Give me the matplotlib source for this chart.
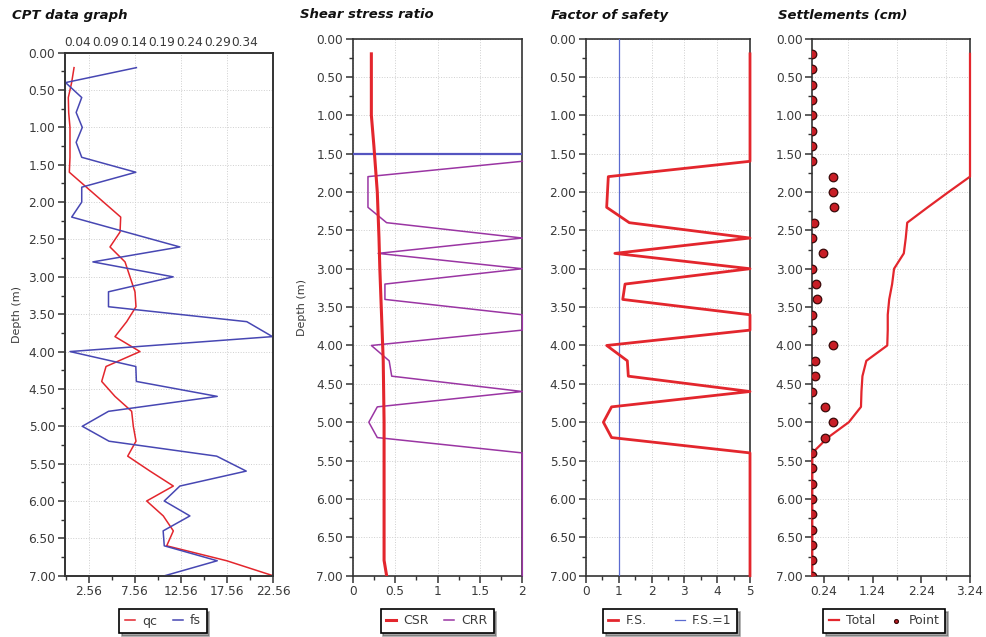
import matplotlib
matplotlib.use("Agg")
import matplotlib.pyplot as plt
from matplotlib.patches import Polygon
from matplotlib.ticker import MultipleLocator, FixedLocator, FormatStrFormatter

# --- CPT data (qc on bottom axis, fs on top axis) ---
qc_depth = [0.2, 0.4, 0.6, 0.8, 1.0, 1.2, 1.4, 1.6, 2.2, 2.4, 2.6, 2.8, 3.0, 3.2, 3.4,
            3.6, 3.8, 4.0, 4.2, 4.4, 4.6, 4.8, 5.0, 5.2, 5.4, 5.6, 5.8, 6.0, 6.2, 6.4,
            6.6, 6.8, 7.0]
qc = [0.98, 0.72, 0.36, 0.40, 0.54, 0.54, 0.54, 0.47, 6.04, 5.97, 4.88, 6.51, 7.05, 7.59, 7.70,
      6.69, 5.42, 8.13, 4.45, 3.98, 5.42, 7.23, 7.41, 7.70, 6.80, 9.22, 11.75, 8.86, 10.66, 11.75,
      11.03, 17.54, 22.56]

fs_depth = [0.2, 0.4, 0.6, 0.8, 1.0, 1.2, 1.4, 1.6, 1.8, 2.0, 2.2, 2.6, 2.8, 3.0, 3.2,
            3.4, 3.6, 3.8, 4.0, 4.2, 4.4, 4.6, 4.8, 5.0, 5.2, 5.4, 5.6, 5.8, 6.0, 6.2,
            6.4, 6.6, 6.8, 7.0]
fs = [0.145, 0.018, 0.047, 0.037, 0.048, 0.037, 0.047, 0.144, 0.047, 0.047, 0.029, 0.223, 0.067, 0.211, 0.095,
      0.095, 0.343, 0.389, 0.026, 0.144, 0.145, 0.290, 0.095, 0.048, 0.096, 0.289, 0.342, 0.223, 0.195, 0.241,
      0.193, 0.195, 0.290, 0.196]

qc_ticks = [2.56, 7.56, 12.56, 17.56, 22.56]
fs_ticks = [0.04, 0.09, 0.14, 0.19, 0.24, 0.29, 0.34]

# --- shear stress ratio ---
csr_depth = [0.2, 1.0, 1.4, 2.0, 2.6, 3.0, 3.6, 4.2, 5.0, 6.0, 6.8, 7.0]
csr = [0.22, 0.22, 0.25, 0.29, 0.31, 0.32, 0.34, 0.36, 0.37, 0.37, 0.37, 0.40]

crr_depth = [1.6, 1.8, 2.2, 2.4, 2.6, 2.8, 3.0, 3.2, 3.4, 3.6, 3.8, 4.0, 4.2, 4.4,
             4.6, 4.8, 5.0, 5.2, 5.4, 7.0]
crr = [2.0, 0.18, 0.18, 0.40, 2.0, 0.30, 2.0, 0.38, 0.38, 2.0, 2.0, 0.22, 0.43, 0.46,
       2.0, 0.29, 0.19, 0.29, 2.0, 2.0]

water_depth = 1.5

# --- factor of safety ---
fos_depth = [0.2, 1.6, 1.8, 2.2, 2.4, 2.6, 2.8, 3.0, 3.2, 3.4, 3.6, 3.8, 4.0, 4.2,
             4.4, 4.6, 4.8, 5.0, 5.2, 5.4, 7.0]
fos = [5.0, 5.0, 0.68, 0.63, 1.32, 5.0, 0.88, 5.0, 1.19, 1.12, 5.0, 5.0, 0.63, 1.26,
       1.29, 5.0, 0.78, 0.53, 0.78, 5.0, 5.0]

# --- settlements ---
total_depth = [0.2, 1.8, 2.0, 2.2, 2.4, 2.6, 2.8, 3.0, 3.2, 3.4, 3.6, 3.8, 4.0, 4.2,
               4.4, 4.6, 4.8, 5.0, 5.2, 5.4, 7.0]
total = [3.24, 3.24, 2.80, 2.37, 1.95, 1.92, 1.88, 1.68, 1.64, 1.58, 1.55, 1.55, 1.54, 1.11,
         1.03, 1.01, 1.00, 0.75, 0.32, 0.0, 0.0]

point_depth = [0.2, 0.4, 0.6, 0.8, 1.0, 1.2, 1.4, 1.6, 1.8, 2.0, 2.2, 2.4, 2.6, 2.8, 3.0,
               3.2, 3.4, 3.6, 3.8, 4.0, 4.2, 4.4, 4.6, 4.8, 5.0, 5.2, 5.4, 5.6, 5.8, 6.0,
               6.2, 6.4, 6.6, 6.8, 7.0]
point = [0, 0, 0, 0, 0, 0, 0, 0, 0.42, 0.42, 0.44, 0.04, 0, 0.21, 0,
         0.07, 0.10, 0, 0, 0.42, 0.06, 0.05, 0, 0.26, 0.42, 0.26, 0, 0, 0, 0,
         0, 0, 0, 0, 0]
settle_ticks = [0.24, 1.24, 2.24, 3.24]

RED = "#e3262d"
BLUE = "#4747b3"
PURPLE = "#9a35a3"
TXT = "#3a3a3a"
W, H = 986, 637

plt.rcParams["font.family"] = "DejaVu Sans"

fig = plt.figure(figsize=(W / 100, H / 100), dpi=100)


def px_axes(x0, x1, y0, y1):
    return fig.add_axes([x0 / W, 1 - y1 / H, (x1 - x0) / W, (y1 - y0) / H])


def style(ax, ylabel=False):
    ax.set_ylim(7, 0)
    ax.yaxis.set_major_locator(MultipleLocator(0.5))
    ax.yaxis.set_minor_locator(MultipleLocator(0.25))
    ax.yaxis.set_major_formatter(FormatStrFormatter("%.2f"))
    for s in ax.spines.values():
        s.set_color("#333333")
        s.set_linewidth(1.2)
    ax.tick_params(which="major", length=5, width=1.1, color="#333333",
                   labelsize=8.7, labelcolor=TXT, pad=2)
    ax.tick_params(which="minor", length=3, width=1.0, color="#333333")
    ax.grid(True, which="major", color="#cfcfcf", linestyle=":", linewidth=0.7)
    ax.set_axisbelow(True)
    if ylabel:
        ax.set_ylabel("Depth (m)", fontsize=8, color=TXT)


def legend(ax, xc, colsp=1.2, **kw):
    leg = ax.legend(loc="center", bbox_to_anchor=(xc / W, 1 - 621 / H),
                    bbox_transform=fig.transFigure, ncol=2, fontsize=9,
                    handlelength=0.8, handletextpad=0.6, columnspacing=colsp,
                    fancybox=False, shadow={"color": "0.3"}, borderpad=0.45,
                    framealpha=1, **kw)
    leg.get_frame().set_edgecolor("black")
    leg.get_frame().set_linewidth(1.2)
    for t in leg.get_texts():
        t.set_color(TXT)
    return leg


def title(x, text):
    fig.text(x / W, 1 - 15 / H, text, fontsize=9.5, fontweight="bold",
             style="italic", color="#111111", va="center", ha="left")


# CPT data graph
ax1 = px_axes(65, 273, 52.7, 575.7)
style(ax1, ylabel=True)
ax1.yaxis.set_label_coords(-0.205, 0.5)
l_qc, = ax1.plot(qc, qc_depth, color=RED, lw=1.1, label="qc")
ax1.set_xlim(0, 22.56)
ax1.xaxis.set_major_locator(FixedLocator(qc_ticks))
ax1.xaxis.set_minor_locator(FixedLocator([t - 2.5 for t in qc_ticks]))
ax1.xaxis.set_major_formatter(FormatStrFormatter("%.2f"))
ax1t = ax1.twiny()
l_fs, = ax1t.plot(fs, fs_depth, color=BLUE, lw=1.1, label="fs")
ax1t.set_xlim(0.017, 0.39)
ax1t.xaxis.set_major_locator(FixedLocator(fs_ticks))
ax1t.xaxis.set_major_formatter(FormatStrFormatter("%.2f"))
ax1t.tick_params(axis="x", length=0, labelsize=8.7, labelcolor=TXT, pad=3)
for s in ax1t.spines.values():
    s.set_color("#333333")
    s.set_linewidth(1.2)
legend(ax1, 163, handles=[l_qc, l_fs])
title(12, "CPT data graph")

# Shear stress ratio
ax2 = px_axes(352.7, 522.3, 38.5, 575.7)
style(ax2, ylabel=True)
ax2.yaxis.set_label_coords(-0.27, 0.5)
ax2.axhline(water_depth, color="#5555c0", lw=1.6, zorder=3)
l_crr, = ax2.plot(crr, crr_depth, color=PURPLE, lw=1.1, label="CRR", zorder=4, clip_on=False)
l_csr, = ax2.plot(csr, csr_depth, color=RED, lw=2.2, label="CSR", zorder=5)
ax2.set_xlim(0, 2)
ax2.xaxis.set_major_locator(FixedLocator([0, 0.5, 1, 1.5, 2]))
ax2.xaxis.set_minor_locator(MultipleLocator(0.25))
ax2.xaxis.set_major_formatter(FormatStrFormatter("%g"))
legend(ax2, 437, handles=[l_csr, l_crr])
title(300, "Shear stress ratio")

# Factor of safety
ax3 = px_axes(586, 750, 38.5, 575.7)
style(ax3)
ax3.plot(fos, fos_depth, color=RED, lw=2.0, label="F.S.", zorder=4, clip_on=False)
ax3.axvline(1, color="#5b6bd0", lw=0.9, label="F.S.=1", zorder=3)
ax3.set_xlim(0, 5)
ax3.xaxis.set_major_locator(MultipleLocator(1))
ax3.xaxis.set_minor_locator(MultipleLocator(0.5))
ax3.xaxis.set_major_formatter(FormatStrFormatter("%d"))
legend(ax3, 670, colsp=2.2)
title(551, "Factor of safety")

# Settlements
ax4 = px_axes(812.3, 970, 38.5, 575.7)
style(ax4)
ax4.grid(False, axis="x", which="major")
ax4.grid(True, axis="x", which="minor", color="#cfcfcf", linestyle=":", linewidth=0.7)
ax4.plot(total, total_depth, color=RED, lw=1.6, label="Total", zorder=4, clip_on=False)
pts = ax4.scatter(point, point_depth, s=38, color="#c81e26", edgecolor="#3a0a0a",
                  linewidth=0.9, label="Point", zorder=5)
# zero-settlement dots sit on the left spine and are cut in half by the frame
frame = Polygon([(0, 0), (1, 0), (1, 1), (0, 1)], closed=True, transform=ax4.transAxes)
pts.set_clip_path(frame)
ax4.set_xlim(0, 3.24)
ax4.xaxis.set_major_locator(FixedLocator(settle_ticks))
ax4.xaxis.set_minor_locator(FixedLocator([t + 0.5 for t in settle_ticks[:-1]]))
ax4.xaxis.set_major_formatter(FormatStrFormatter("%.2f"))
legend(ax4, 884, markerscale=0.45)
title(778, "Settlements (cm)")

fig.savefig("out.png", dpi=100)
